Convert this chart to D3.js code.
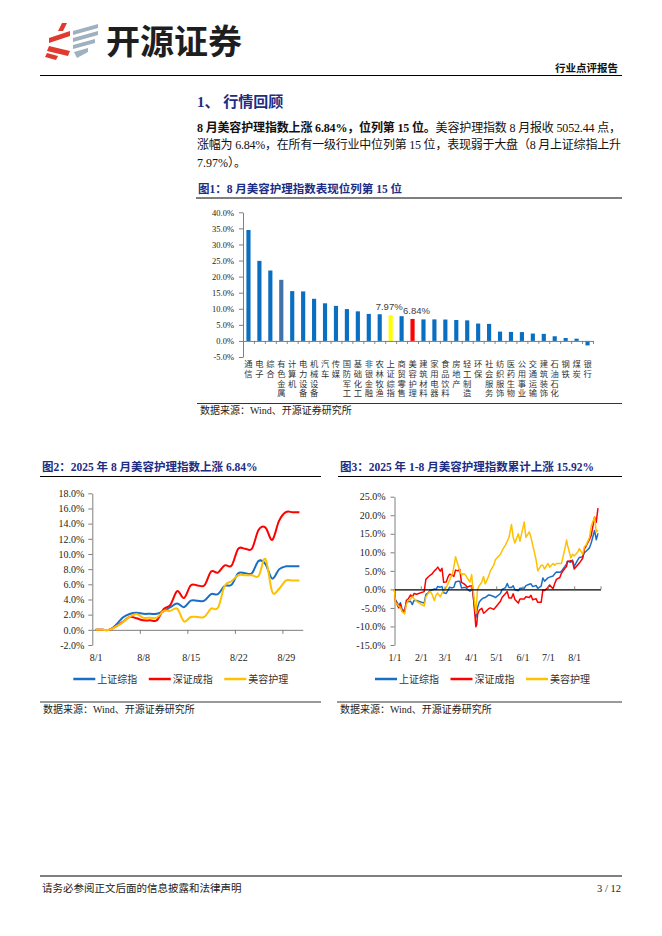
<!DOCTYPE html>
<html>
<head>
<meta charset="utf-8">
<script src="https://cdn.jsdelivr.net/npm/d3@7"></script>
<style>
body { margin: 0; background: #fff; }
svg text { font-family: "Liberation Serif", "Noto Sans CJK SC", serif; }
</style>
</head>
<body>
<script>
// ---- 图1 data: August change by industry (%)
var industries = ["通信","电子","综合","有色金属","计算机","电力设备","机械设备","汽车","传媒","国防军工","基础化工","非银金融","农林牧渔","上证综指","商贸零售","美容护理","建筑材料","家用电器","食品饮料","房地产","轻工制造","环保","社会服务","纺织服饰","医药生物","公用事业","交通运输","建筑装饰","石油石化","钢铁","煤炭","银行"];
var augChange = [34.5,24.9,21.9,19.0,15.5,15.4,13.1,11.7,10.9,9.9,9.2,8.4,8.3,7.97,7.7,6.84,6.7,6.7,6.65,6.5,6.4,5.4,5.3,2.9,2.8,2.75,2.3,2.2,1.45,0.9,0.7,-1.4];
var barTicks = [-5,0,5,10,15,20,25,30,35,40];

// ---- 图2 data: daily cumulative change in August (%), 8/1 .. 8/31
var augDays = [1,2,3,4,5,6,7,8,9,10,11,12,13,14,15,16,17,18,19,20,21,22,23,24,25,26,27,28,29,30,31];
var augSH = [0,0,0,0.66,1.62,2.08,2.24,2.11,2.11,2.11,2.46,2.98,3.47,2.99,3.84,3.84,3.84,4.72,4.70,5.79,5.93,7.47,7.47,7.47,9.09,8.66,6.75,7.97,8.37,8.37,8.37];
var augSZ = [0,0,0,0.46,1.05,1.70,1.52,1.25,1.25,1.25,2.73,3.28,5.10,4.19,5.86,5.86,5.86,7.68,7.55,8.51,8.45,10.69,10.69,10.69,13.19,13.48,11.86,14.37,15.51,15.51,15.51];
var augBeauty = [0,0,0,0.45,1.0,1.7,2.1,1.6,1.6,1.6,2.5,2.5,2.8,1.1,1.7,1.7,1.7,2.8,2.9,5.8,6.4,7.2,7.2,7.2,7.1,9.35,5.0,5.4,6.5,6.5,6.5];
var augTicks = [-2,0,2,4,6,8,10,12,14,16,18];
var augLabelDays = [1,8,15,22,29];

// ---- 图3 data: cumulative change since 2024-12-31 (%)
var ytdDates = ["01-01","01-02","01-06","01-08","01-10","01-13","01-15","01-17","01-20","01-22","01-24","01-27",
  "02-05","02-07","02-10","02-12","02-14","02-17","02-19","02-21","02-24","02-26","02-28",
  "03-03","03-05","03-07","03-10","03-12","03-14","03-17","03-19","03-21","03-24","03-26","03-28","03-31",
  "04-02","04-03","04-07","04-08","04-09","04-11","04-14","04-16","04-18","04-22","04-24","04-28","04-30",
  "05-06","05-08","05-12","05-14","05-16","05-19","05-21","05-23","05-27","05-29",
  "06-03","06-05","06-09","06-11","06-13","06-17","06-19","06-23","06-25","06-27",
  "07-01","07-03","07-07","07-09","07-11","07-15","07-17","07-21","07-23","07-24","07-28","07-30",
  "08-01","08-05","08-07","08-11","08-13","08-15","08-19","08-21","08-25","08-27","08-29"];
var ytdSH = [0,-2.7,-4.4,-3.6,-5.5,-5.7,-3.7,-3.3,-3.2,-4.1,-3.0,-3.0,
  -3.7,-1.4,-0.9,-0.2,-0.2,0.1,0.0,0.8,0.6,0.8,-0.9,
  -1.1,-0.3,0.6,0.4,0.6,2.0,2.2,2.2,0.4,0.5,0.5,0.0,-0.5,
  0.0,-0.3,-7.6,-6.2,-4.9,-3.4,-2.6,-2.3,-2.2,-1.5,-1.6,-1.9,-2.2,
  -1.1,0.0,0.5,1.6,0.5,0.5,1.0,-0.1,-0.35,0.3,
  0.3,1.0,1.4,1.5,0.75,1.05,0.3,0.9,3.1,2.2,
  3.1,3.3,3.6,4.2,4.7,4.6,4.9,6.2,6.9,7.6,7.3,7.9,
  6.2,7.9,8.6,8.8,9.9,10.3,11.2,12.5,15.9,13.4,15.1];
var ytdSZ = [0,-3.1,-5.0,-4.0,-5.9,-6.0,-2.95,-2.6,-1.5,-2.1,-1.1,-1.3,
  -0.6,2.7,3.4,3.8,4.1,5.0,5.4,6.0,4.9,5.7,1.9,
  2.0,3.3,4.1,3.9,3.5,5.2,5.0,5.4,1.9,1.5,1.1,0.6,0.9,
  0.9,0.9,-10.1,-9.5,-6.8,-5.6,-5.1,-6.4,-6.1,-5.2,-5.0,-5.4,-4.9,
  -3.2,-2.1,-1.1,-0.6,-2.3,-2.3,-1.2,-2.7,-3.7,-2.6,
  -2.6,-2.0,-2.2,-1.6,-2.8,-2.5,-3.5,-3.5,-0.2,-0.3,
  0.5,1.2,0.2,1.6,2.7,3.2,4.4,5.7,6.2,7.5,7.7,7.6,
  5.5,6.6,7.1,8.4,10.9,11.7,13.5,14.5,19.5,18.1,21.9];
var ytdBeauty = [0,-3.5,-4.5,-4.8,-6.0,-6.6,-4.0,-3.0,-2.6,-2.0,-2.5,-3.2,
  -4.5,-2.0,-1.0,-0.5,-1.2,-3.0,-1.5,-1.0,-2.0,-1.0,-0.5,
  0.5,1.5,2.5,4.0,6.0,8.8,6.5,5.0,4.0,4.2,3.8,3.0,2.0,
  4.0,1.5,-6.5,-3.0,0.0,1.0,2.0,3.5,1.5,3.5,5.0,6.5,8.0,
  9.5,10.5,12.0,13.0,14.0,17.5,14.0,12.5,15.0,13.0,
  18.2,14.0,15.5,14.0,12.0,8.0,5.0,6.5,6.5,5.5,
  7.0,6.0,7.0,6.5,7.0,7.0,7.0,11.0,13.3,12.0,8.5,9.5,
  9.0,10.0,11.0,9.5,11.5,12.0,14.0,17.0,19.5,15.5,15.92];
var ytdTicks = [-15,-10,-5,0,5,10,15,20,25];
var ytdLabelMonths = ["01-01","02-01","03-01","04-01","05-01","06-01","07-01","08-01"];
var ytdTickMonths = ["02-01","03-01","04-01","05-01","06-01","07-01","08-01","09-01"];

var seriesNames = ["上证综指","深证成指","美容护理"];
var seriesColors = ["#1a6fc4","#ff0000","#ffc000"];

var navy = "#1c2d83";
var pct = function(d){ return d.toFixed(1) + "%"; };

var svg = d3.select("body").append("svg")
  .attr("width", 662).attr("height", 936);

// ---------- page header ----------
var logo = svg.append("g");
var redParts = ["M62,23 L67,23 L63,31 L58,31 Z",
                "M49,38 L70,31 L70,36 L49,43 Z",
                "M49,46 L70,51 L68,56 L47,51 Z",
                "M47,53 L58,56 L56,60 L45,57 Z"];
var greyParts = ["M73,31 L98,24 L98,28 L73,35 Z",
                 "M73,38 L98,31 L98,35 L73,42 Z",
                 "M73,45 L95,39 L95,43 L73,49 Z",
                 "M74,52 L88,48 L88,52 L77,58 Z"];
logo.selectAll(".r").data(redParts).enter().append("path")
  .attr("d", function(d){ return d; }).attr("fill", "#e03a2f");
logo.selectAll(".g").data(greyParts).enter().append("path")
  .attr("d", function(d){ return d; }).attr("fill", "#9fb0bf");

svg.append("text").attr("x", 106).attr("y", 54)
  .style("font-family", "'Noto Sans CJK SC'").style("font-weight", 700)
  .attr("font-size", 34).attr("fill", "#1e1e1e").text("开源证券");
svg.append("text").attr("x", 618).attr("y", 72).attr("text-anchor", "end")
  .style("font-family", "'Noto Sans CJK SC'").style("font-weight", 700)
  .attr("font-size", 10.5).attr("fill", "#111").text("行业点评报告");
svg.append("line").attr("x1", 40).attr("x2", 622).attr("y1", 75.5).attr("y2", 75.5)
  .attr("stroke", "#000").attr("stroke-width", 1);

// ---------- section heading and paragraph ----------
var h = svg.append("text").attr("x", 197).attr("y", 107)
  .attr("font-size", 15).attr("font-weight", 700).attr("fill", navy);
h.append("tspan").text("1、 ");
h.append("tspan").style("font-family", "'Noto Sans CJK SC'").text("行情回顾");

var p1 = svg.append("text").attr("x", 197).attr("y", 131.5).attr("font-size", 12)
  .attr("fill", "#111").attr("textLength", 424).attr("lengthAdjust", "spacing");
p1.append("tspan").attr("font-weight", 700).text("8 月美容护理指数上涨 6.84%，位列第 15 位。");
p1.append("tspan").text("美容护理指数 8 月报收 5052.44 点，");
svg.append("text").attr("x", 197).attr("y", 149).attr("font-size", 12)
  .attr("fill", "#111").attr("textLength", 424).attr("lengthAdjust", "spacing")
  .text("涨幅为 6.84%，在所有一级行业中位列第 15 位，表现弱于大盘（8 月上证综指上升");
svg.append("text").attr("x", 197).attr("y", 166.5).attr("font-size", 12)
  .attr("fill", "#111").text("7.97%）。");

// figure titles
function figTitle(x, y, x2, txt) {
  svg.append("text").attr("x", x).attr("y", y).attr("font-size", 11.5)
    .attr("font-weight", 700).attr("fill", navy).text(txt);
  svg.append("line").attr("x1", x - 2).attr("x2", x2).attr("y1", y + 5.5).attr("y2", y + 5.5)
    .attr("stroke", "#000").attr("stroke-width", 1);
}
function source(x, y, x2) {
  svg.append("line").attr("x1", x - 3).attr("x2", x2).attr("y1", y - 10.5).attr("y2", y - 10.5)
    .attr("stroke", "#000").attr("stroke-width", 0.8);
  svg.append("text").attr("x", x).attr("y", y).attr("font-size", 10)
    .attr("fill", "#222").text("数据来源：Wind、开源证券研究所");
}
figTitle(198, 192.5, 622, "图1：8 月美容护理指数表现位列第 15 位");
source(200, 414, 622);
figTitle(42, 471, 321, "图2：2025 年 8 月美容护理指数上涨 6.84%");
source(43, 712.5, 321);
figTitle(340, 471, 622, "图3：2025 年 1-8 月美容护理指数累计上涨 15.92%");
source(340, 712.5, 622);

function styleAxis(g, color) {
  g.selectAll(".domain").attr("stroke", color);
  g.selectAll(".tick line").attr("stroke", color);
  g.selectAll(".tick text").attr("fill", "#222");
}

// ---------- 图1 bar chart ----------
var x1 = d3.scaleBand().domain(industries).range([243, 593])
  .paddingInner(0.62).paddingOuter(0.31);
var y1 = d3.scaleLinear().domain([-5, 40]).range([357, 212.3]);
var idx1 = d3.scaleLinear().domain([0, industries.length]).range([243, 593]);

var gy1 = svg.append("g").attr("transform", "translate(243,0)")
  .call(d3.axisLeft(y1).tickValues(barTicks).tickSize(4).tickSizeOuter(0)
    .tickPadding(5).tickFormat(pct))
  .attr("font-size", 8.5).attr("font-family", "Liberation Serif");
styleAxis(gy1, "#7f7f7f");

var barColor = function(d) {
  if (d === "上证综指") return "#ffff00";
  if (d === "美容护理") return "#ff0000";
  if (d === "有色金属") return "#4272aa";
  return "#0b6fc1";
};
svg.append("g").selectAll("rect").data(industries).enter().append("rect")
  .attr("x", function(d){ return x1(d); })
  .attr("width", x1.bandwidth())
  .attr("y", function(d, i){ return y1(Math.max(0, augChange[i])); })
  .attr("height", function(d, i){ return Math.abs(y1(augChange[i]) - y1(0)); })
  .attr("fill", barColor);

var gx1 = svg.append("g").attr("transform", "translate(0," + y1(0) + ")")
  .call(d3.axisBottom(idx1).tickValues(d3.range(0, industries.length + 1))
    .tickSize(3).tickSizeOuter(0).tickFormat(""));
styleAxis(gx1, "#7f7f7f");

// value labels on highlighted bars (nudged apart so they just touch)
[["上证综指", -1.5], ["美容护理", 4]].forEach(function(item) {
  var name = item[0], i = industries.indexOf(name);
  svg.append("text")
    .attr("x", x1(name) + x1.bandwidth() / 2 + item[1])
    .attr("y", y1(augChange[i]) - 5)
    .attr("text-anchor", "middle")
    .style("font-family", "'Liberation Sans'")
    .attr("font-size", 9.5).attr("fill", "#404040")
    .text(augChange[i].toFixed(2) + "%");
});

// vertical category labels (top-to-bottom writing)
svg.append("g").selectAll("text").data(industries).enter().append("text")
  .attr("x", function(d){ return x1(d) + x1.bandwidth() / 2; })
  .attr("y", 359.8)
  .style("writing-mode", "vertical-rl")
  .style("text-orientation", "upright")
  .style("letter-spacing", "1.4px")
  .style("font-family", "'Noto Sans CJK SC'")
  .attr("font-size", 8.3).attr("fill", "#333")
  .text(function(d){ return d; });

// ---------- line chart helpers ----------
function legend(x0, y, gap) {
  seriesNames.forEach(function(name, i) {
    var lx = x0 + i * gap;
    svg.append("line").attr("x1", lx).attr("x2", lx + 22).attr("y1", y).attr("y2", y)
      .attr("stroke", seriesColors[i]).attr("stroke-width", 2.5);
    svg.append("text").attr("x", lx + 24).attr("y", y + 3.6)
      .style("font-family", "'Noto Sans CJK SC'")
      .attr("font-size", 10).attr("fill", "#333").text(name);
  });
}

// ---------- 图2 August lines ----------
var x2 = d3.scaleLinear().domain([0.5, 31.5]).range([92.3, 302.8]);
var y2 = d3.scaleLinear().domain([-2, 18]).range([645, 493.3]);

var gy2 = svg.append("g").attr("transform", "translate(92.3,0)")
  .call(d3.axisLeft(y2).tickValues(augTicks).tickSize(4).tickSizeOuter(0)
    .tickPadding(4).tickFormat(pct))
  .attr("font-size", 10).attr("font-family", "Liberation Serif");
styleAxis(gy2, "#7f7f7f");

var gx2 = svg.append("g").attr("transform", "translate(0," + y2(0) + ")")
  .call(d3.axisBottom(x2).tickValues([7.5, 14.5, 21.5, 28.5]).tickSize(4)
    .tickSizeOuter(0).tickFormat(""));
styleAxis(gx2, "#7f7f7f");

var gl2 = svg.append("g").attr("transform", "translate(0,645)")
  .call(d3.axisBottom(x2).tickValues(augLabelDays).tickSize(0).tickPadding(8.5)
    .tickFormat(function(d){ return "8/" + d; }))
  .attr("font-size", 10).attr("font-family", "Liberation Serif");
gl2.select(".domain").remove();
gl2.selectAll("text").attr("fill", "#222");

var line2 = d3.line()
  .x(function(d, i){ return x2(augDays[i]); })
  .y(function(d){ return y2(d); })
  .curve(d3.curveCatmullRom.alpha(0));
[augSH, augSZ, augBeauty].forEach(function(s, i) {
  svg.append("path").datum(s).attr("d", line2).attr("fill", "none")
    .attr("stroke", seriesColors[i]).attr("stroke-width", 2);
});
legend(73.3, 679, 75.5);

// ---------- 图3 year-to-date lines ----------
var parseDay = d3.timeParse("%Y-%m-%d");
var toDate = function(s){ return parseDay("2025-" + s); };
var x3 = d3.scaleTime().domain([toDate("01-01"), toDate("09-01")]).range([394.5, 600.5]);
var y3 = d3.scaleLinear().domain([-15, 25]).range([645, 496.7]);

var gy3 = svg.append("g").attr("transform", "translate(394.5,0)")
  .call(d3.axisLeft(y3).tickValues(ytdTicks).tickSize(4).tickSizeOuter(0)
    .tickPadding(5).tickFormat(pct))
  .attr("font-size", 10).attr("font-family", "Liberation Serif");
styleAxis(gy3, "#7f7f7f");

var gl3 = svg.append("g").attr("transform", "translate(0,645)")
  .call(d3.axisBottom(x3).tickValues(ytdLabelMonths.map(toDate)).tickSize(0)
    .tickPadding(8.5).tickFormat(d3.timeFormat("%-m/%-d")))
  .attr("font-size", 10).attr("font-family", "Liberation Serif");
gl3.select(".domain").remove();
gl3.selectAll("text").attr("fill", "#222");

var line3 = d3.line()
  .x(function(d, i){ return x3(toDate(ytdDates[i])); })
  .y(function(d){ return y3(d); });
[ytdSH, ytdSZ, ytdBeauty].forEach(function(s, i) {
  svg.append("path").datum(s).attr("d", line3).attr("fill", "none")
    .attr("stroke", seriesColors[i]).attr("stroke-width", 1.5)
    .attr("stroke-linejoin", "round");
});

var gx3 = svg.append("g").attr("transform", "translate(0," + y3(0) + ")")
  .call(d3.axisTop(x3).tickValues(ytdTickMonths.map(toDate)).tickSize(3)
    .tickSizeOuter(0).tickFormat(""));
gx3.select(".domain").attr("stroke", "#000").attr("stroke-width", 1.3);
gx3.selectAll(".tick line").attr("stroke", "#7f7f7f");
legend(375, 679, 75.5);

// ---------- footer ----------
svg.append("line").attr("x1", 40).attr("x2", 622).attr("y1", 876).attr("y2", 876)
  .attr("stroke", "#000").attr("stroke-width", 1);
svg.append("text").attr("x", 42).attr("y", 891.5).attr("font-size", 10.5)
  .attr("fill", "#222").text("请务必参阅正文后面的信息披露和法律声明");
svg.append("text").attr("x", 621).attr("y", 891.5).attr("font-size", 10.5)
  .attr("text-anchor", "end").attr("fill", "#222").text("3 / 12");
</script>
</body>
</html>
